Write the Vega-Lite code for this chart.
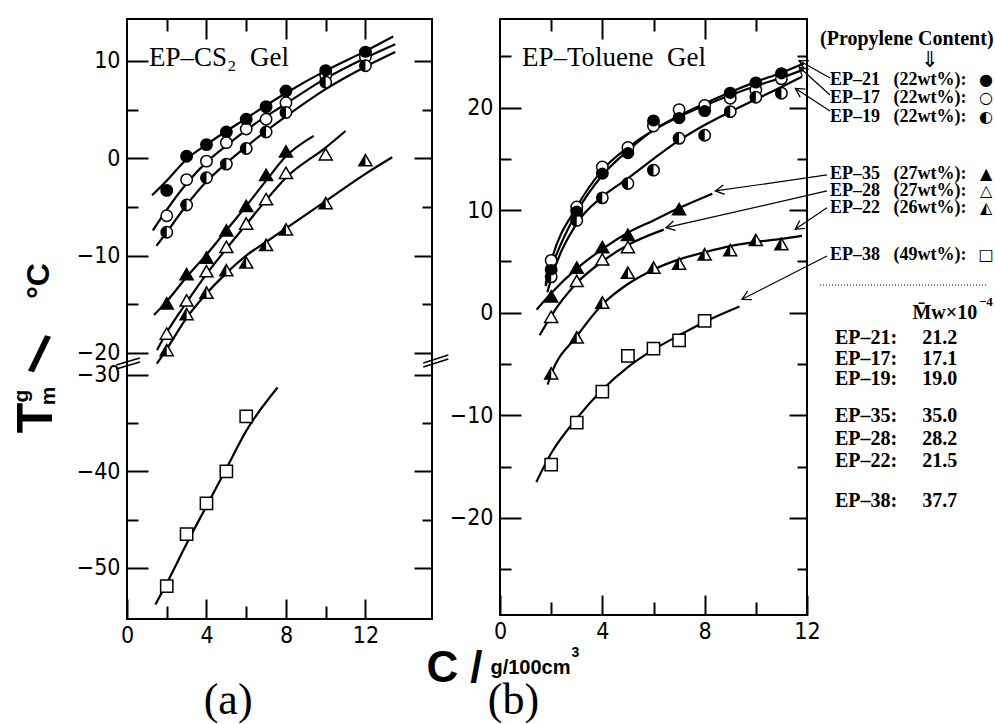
{
  "$schema": "https://vega.github.io/schema/vega-lite/v6.json",
  "padding": 0,
  "bounds": "flush",
  "spacing": 68,
  "config": {
    "view": {"stroke": "black", "strokeWidth": 2},
    "axis": {"domain": false, "grid": false, "tickColor": "black", "tickWidth": 2, "labelColor": "black", "labelFont": "Liberation Sans Narrow, DejaVu Sans Condensed, sans-serif", "labelFontSize": 23, "labelFlush": false, "labelOverlap": false, "title": null}
  },
  "datasets": {
    "pa": [
      {"s": "EP-21", "C": 2, "T": -3.3}, {"s": "EP-21", "C": 3, "T": 0.2}, {"s": "EP-21", "C": 4, "T": 1.4}, {"s": "EP-21", "C": 5, "T": 2.7}, {"s": "EP-21", "C": 6, "T": 4.0}, {"s": "EP-21", "C": 7, "T": 5.3}, {"s": "EP-21", "C": 8, "T": 6.9}, {"s": "EP-21", "C": 10, "T": 9.0}, {"s": "EP-21", "C": 12, "T": 10.9},
      {"s": "EP-17", "C": 2, "T": -5.9}, {"s": "EP-17", "C": 3, "T": -2.2}, {"s": "EP-17", "C": 4, "T": -0.3}, {"s": "EP-17", "C": 5, "T": 1.6}, {"s": "EP-17", "C": 6, "T": 3.0}, {"s": "EP-17", "C": 7, "T": 4.0}, {"s": "EP-17", "C": 8, "T": 5.7}, {"s": "EP-17", "C": 10, "T": 8.5}, {"s": "EP-17", "C": 12, "T": 10.4},
      {"s": "EP-19", "C": 2, "T": -7.6}, {"s": "EP-19", "C": 3, "T": -4.8}, {"s": "EP-19", "C": 4, "T": -2.0}, {"s": "EP-19", "C": 5, "T": -0.6}, {"s": "EP-19", "C": 6, "T": 1.0}, {"s": "EP-19", "C": 7, "T": 2.7}, {"s": "EP-19", "C": 8, "T": 4.7}, {"s": "EP-19", "C": 10, "T": 7.8}, {"s": "EP-19", "C": 12, "T": 9.5},
      {"s": "EP-35", "C": 2, "T": -14.9}, {"s": "EP-35", "C": 3, "T": -11.9}, {"s": "EP-35", "C": 4, "T": -10.2}, {"s": "EP-35", "C": 5, "T": -7.4}, {"s": "EP-35", "C": 6, "T": -4.9}, {"s": "EP-35", "C": 7, "T": -1.7}, {"s": "EP-35", "C": 8, "T": 0.7},
      {"s": "EP-28", "C": 2, "T": -18.0}, {"s": "EP-28", "C": 3, "T": -14.6}, {"s": "EP-28", "C": 4, "T": -11.6}, {"s": "EP-28", "C": 5, "T": -9.1}, {"s": "EP-28", "C": 6, "T": -6.7}, {"s": "EP-28", "C": 7, "T": -4.2}, {"s": "EP-28", "C": 8, "T": -1.5}, {"s": "EP-28", "C": 10, "T": 0.4},
      {"s": "EP-22", "C": 2, "T": -19.7}, {"s": "EP-22", "C": 3, "T": -16.0}, {"s": "EP-22", "C": 4, "T": -13.8}, {"s": "EP-22", "C": 5, "T": -11.5}, {"s": "EP-22", "C": 6, "T": -10.7}, {"s": "EP-22", "C": 7, "T": -8.9}, {"s": "EP-22", "C": 8, "T": -7.3}, {"s": "EP-22", "C": 10, "T": -4.6}, {"s": "EP-22", "C": 12, "T": -0.2},
      {"s": "EP-38", "C": 2, "T": -51.9}, {"s": "EP-38", "C": 3, "T": -46.5}, {"s": "EP-38", "C": 4, "T": -43.3}, {"s": "EP-38", "C": 5, "T": -40.0}, {"s": "EP-38", "C": 6, "T": -34.3}
    ],
    "pb": [
      {"s": "EP-21", "C": 2, "T": 4.2}, {"s": "EP-21", "C": 3, "T": 9.9}, {"s": "EP-21", "C": 4, "T": 13.6}, {"s": "EP-21", "C": 5, "T": 15.6}, {"s": "EP-21", "C": 6, "T": 18.7}, {"s": "EP-21", "C": 7, "T": 19.0}, {"s": "EP-21", "C": 8, "T": 19.7}, {"s": "EP-21", "C": 9, "T": 21.4}, {"s": "EP-21", "C": 10, "T": 22.4}, {"s": "EP-21", "C": 11, "T": 23.3},
      {"s": "EP-17", "C": 2, "T": 5.1}, {"s": "EP-17", "C": 3, "T": 10.3}, {"s": "EP-17", "C": 4, "T": 14.2}, {"s": "EP-17", "C": 5, "T": 16.1}, {"s": "EP-17", "C": 6, "T": 18.2}, {"s": "EP-17", "C": 7, "T": 19.8}, {"s": "EP-17", "C": 8, "T": 20.2}, {"s": "EP-17", "C": 9, "T": 20.9}, {"s": "EP-17", "C": 10, "T": 21.7}, {"s": "EP-17", "C": 11, "T": 22.8},
      {"s": "EP-19", "C": 2, "T": 3.5}, {"s": "EP-19", "C": 3, "T": 9.0}, {"s": "EP-19", "C": 4, "T": 11.2}, {"s": "EP-19", "C": 5, "T": 12.6}, {"s": "EP-19", "C": 6, "T": 13.9}, {"s": "EP-19", "C": 7, "T": 17.0}, {"s": "EP-19", "C": 8, "T": 17.3}, {"s": "EP-19", "C": 9, "T": 19.6}, {"s": "EP-19", "C": 10, "T": 21.0}, {"s": "EP-19", "C": 11, "T": 21.4},
      {"s": "EP-35", "C": 2, "T": 1.6}, {"s": "EP-35", "C": 3, "T": 4.4}, {"s": "EP-35", "C": 4, "T": 6.4}, {"s": "EP-35", "C": 5, "T": 7.6}, {"s": "EP-35", "C": 7, "T": 10.1},
      {"s": "EP-28", "C": 2, "T": -0.4}, {"s": "EP-28", "C": 3, "T": 3.1}, {"s": "EP-28", "C": 4, "T": 5.2}, {"s": "EP-28", "C": 5, "T": 6.4},
      {"s": "EP-22", "C": 2, "T": -5.9}, {"s": "EP-22", "C": 3, "T": -2.4}, {"s": "EP-22", "C": 4, "T": 1.0}, {"s": "EP-22", "C": 5, "T": 3.9}, {"s": "EP-22", "C": 6, "T": 4.4}, {"s": "EP-22", "C": 7, "T": 4.8}, {"s": "EP-22", "C": 8, "T": 5.7}, {"s": "EP-22", "C": 9, "T": 6.1}, {"s": "EP-22", "C": 10, "T": 7.1}, {"s": "EP-22", "C": 11, "T": 6.7},
      {"s": "EP-38", "C": 2, "T": -14.8}, {"s": "EP-38", "C": 3, "T": -10.7}, {"s": "EP-38", "C": 4, "T": -7.7}, {"s": "EP-38", "C": 5, "T": -4.2}, {"s": "EP-38", "C": 6, "T": -3.5}, {"s": "EP-38", "C": 7, "T": -2.7}, {"s": "EP-38", "C": 8, "T": -0.8}
    ],
    "ca": [
      {"s": "EP-21", "C": 1.26, "T": -3.8}, {"s": "EP-21", "C": 2, "T": -2.3}, {"s": "EP-21", "C": 3, "T": -0.1}, {"s": "EP-21", "C": 4, "T": 1.4}, {"s": "EP-21", "C": 6, "T": 4.1}, {"s": "EP-21", "C": 8, "T": 6.7}, {"s": "EP-21", "C": 10, "T": 9.0}, {"s": "EP-21", "C": 12, "T": 11.0}, {"s": "EP-21", "C": 13.4, "T": 12.5},
      {"s": "EP-17", "C": 1.3, "T": -7.4}, {"s": "EP-17", "C": 2, "T": -5.3}, {"s": "EP-17", "C": 3, "T": -2.6}, {"s": "EP-17", "C": 4, "T": -0.4}, {"s": "EP-17", "C": 5, "T": 1.3}, {"s": "EP-17", "C": 6, "T": 2.9}, {"s": "EP-17", "C": 8, "T": 5.6}, {"s": "EP-17", "C": 10, "T": 8.2}, {"s": "EP-17", "C": 12, "T": 10.3}, {"s": "EP-17", "C": 13.5, "T": 11.7},
      {"s": "EP-19", "C": 1.48, "T": -9.0}, {"s": "EP-19", "C": 2, "T": -7.6}, {"s": "EP-19", "C": 3, "T": -4.8}, {"s": "EP-19", "C": 4, "T": -2.4}, {"s": "EP-19", "C": 5, "T": -0.5}, {"s": "EP-19", "C": 6, "T": 1.2}, {"s": "EP-19", "C": 8, "T": 4.3}, {"s": "EP-19", "C": 10, "T": 7.1}, {"s": "EP-19", "C": 12, "T": 9.4}, {"s": "EP-19", "C": 13.5, "T": 10.9},
      {"s": "EP-35", "C": 1.36, "T": -16.1}, {"s": "EP-35", "C": 2, "T": -14.7}, {"s": "EP-35", "C": 3, "T": -12.2}, {"s": "EP-35", "C": 4, "T": -9.9}, {"s": "EP-35", "C": 5, "T": -7.4}, {"s": "EP-35", "C": 6, "T": -4.9}, {"s": "EP-35", "C": 7, "T": -2.3}, {"s": "EP-35", "C": 8, "T": 0.2}, {"s": "EP-35", "C": 9.4, "T": 2.3},
      {"s": "EP-28", "C": 1.51, "T": -19.7}, {"s": "EP-28", "C": 2, "T": -17.9}, {"s": "EP-28", "C": 3, "T": -14.8}, {"s": "EP-28", "C": 4, "T": -11.9}, {"s": "EP-28", "C": 5, "T": -9.3}, {"s": "EP-28", "C": 6, "T": -6.8}, {"s": "EP-28", "C": 7, "T": -4.3}, {"s": "EP-28", "C": 8, "T": -2.0}, {"s": "EP-28", "C": 10, "T": 1.1}, {"s": "EP-28", "C": 11, "T": 2.8},
      {"s": "EP-22", "C": 1.5, "T": -21.1}, {"s": "EP-22", "C": 2, "T": -19.6}, {"s": "EP-22", "C": 3, "T": -16.4}, {"s": "EP-22", "C": 4, "T": -13.9}, {"s": "EP-22", "C": 5, "T": -11.8}, {"s": "EP-22", "C": 6, "T": -10.0}, {"s": "EP-22", "C": 7, "T": -8.6}, {"s": "EP-22", "C": 8, "T": -7.2}, {"s": "EP-22", "C": 10, "T": -4.4}, {"s": "EP-22", "C": 12, "T": -1.6}, {"s": "EP-22", "C": 13.35, "T": 0.1},
      {"s": "EP-38", "C": 1.43, "T": -53.8}, {"s": "EP-38", "C": 2, "T": -51.6}, {"s": "EP-38", "C": 3, "T": -47.5}, {"s": "EP-38", "C": 4, "T": -43.6}, {"s": "EP-38", "C": 5, "T": -39.7}, {"s": "EP-38", "C": 6, "T": -35.8}, {"s": "EP-38", "C": 7.58, "T": -31.3}
    ],
    "cb": [
      {"s": "EP-21", "C": 1.78, "T": 2.6}, {"s": "EP-21", "C": 2, "T": 4.3}, {"s": "EP-21", "C": 3, "T": 9.8}, {"s": "EP-21", "C": 4, "T": 13.4}, {"s": "EP-21", "C": 5, "T": 15.8}, {"s": "EP-21", "C": 6, "T": 17.8}, {"s": "EP-21", "C": 7, "T": 19.2}, {"s": "EP-21", "C": 8, "T": 20.4}, {"s": "EP-21", "C": 9, "T": 21.5}, {"s": "EP-21", "C": 10, "T": 22.5}, {"s": "EP-21", "C": 11, "T": 23.4}, {"s": "EP-21", "C": 11.87, "T": 24.3},
      {"s": "EP-17", "C": 1.78, "T": 2.8}, {"s": "EP-17", "C": 2, "T": 5.0}, {"s": "EP-17", "C": 3, "T": 10.3}, {"s": "EP-17", "C": 4, "T": 13.9}, {"s": "EP-17", "C": 5, "T": 16.1}, {"s": "EP-17", "C": 6, "T": 17.8}, {"s": "EP-17", "C": 7, "T": 19.1}, {"s": "EP-17", "C": 8, "T": 20.2}, {"s": "EP-17", "C": 9, "T": 21.2}, {"s": "EP-17", "C": 10, "T": 22.1}, {"s": "EP-17", "C": 11, "T": 22.9}, {"s": "EP-17", "C": 11.87, "T": 23.7},
      {"s": "EP-19", "C": 1.85, "T": 2.0}, {"s": "EP-19", "C": 2, "T": 3.3}, {"s": "EP-19", "C": 3, "T": 8.7}, {"s": "EP-19", "C": 4, "T": 11.3}, {"s": "EP-19", "C": 5, "T": 13.1}, {"s": "EP-19", "C": 6, "T": 15.0}, {"s": "EP-19", "C": 7, "T": 16.8}, {"s": "EP-19", "C": 8, "T": 18.3}, {"s": "EP-19", "C": 9, "T": 19.6}, {"s": "EP-19", "C": 10, "T": 20.8}, {"s": "EP-19", "C": 11, "T": 22.0}, {"s": "EP-19", "C": 11.8, "T": 23.0},
      {"s": "EP-35", "C": 1.43, "T": 0.3}, {"s": "EP-35", "C": 2, "T": 1.9}, {"s": "EP-35", "C": 3, "T": 4.3}, {"s": "EP-35", "C": 4, "T": 6.2}, {"s": "EP-35", "C": 5, "T": 7.8}, {"s": "EP-35", "C": 6, "T": 9.0}, {"s": "EP-35", "C": 7, "T": 10.2}, {"s": "EP-35", "C": 8.3, "T": 11.6},
      {"s": "EP-28", "C": 1.55, "T": -2.2}, {"s": "EP-28", "C": 2, "T": -0.3}, {"s": "EP-28", "C": 3, "T": 2.9}, {"s": "EP-28", "C": 4, "T": 5.0}, {"s": "EP-28", "C": 5, "T": 6.6}, {"s": "EP-28", "C": 6.4, "T": 8.1},
      {"s": "EP-22", "C": 1.86, "T": -7.0}, {"s": "EP-22", "C": 2, "T": -6.0}, {"s": "EP-22", "C": 3, "T": -2.3}, {"s": "EP-22", "C": 4, "T": 0.8}, {"s": "EP-22", "C": 5, "T": 2.8}, {"s": "EP-22", "C": 6, "T": 4.2}, {"s": "EP-22", "C": 7, "T": 5.2}, {"s": "EP-22", "C": 8, "T": 5.9}, {"s": "EP-22", "C": 9, "T": 6.5}, {"s": "EP-22", "C": 10, "T": 6.9}, {"s": "EP-22", "C": 11, "T": 7.2}, {"s": "EP-22", "C": 11.8, "T": 7.5},
      {"s": "EP-38", "C": 1.42, "T": -16.5}, {"s": "EP-38", "C": 2, "T": -13.7}, {"s": "EP-38", "C": 3, "T": -10.3}, {"s": "EP-38", "C": 4, "T": -7.5}, {"s": "EP-38", "C": 5, "T": -5.3}, {"s": "EP-38", "C": 6, "T": -3.6}, {"s": "EP-38", "C": 7, "T": -2.2}, {"s": "EP-38", "C": 8, "T": -0.9}, {"s": "EP-38", "C": 9.36, "T": 0.6}
    ],
    "brk": [
      {"C": -0.55, "T": -28.96, "C2": 0.65, "T2": -20.51},
      {"C": -0.55, "T": -29.38, "C2": 0.65, "T2": -20.92},
      {"C": 14.91, "T": -21.03, "C2": 16.17, "T2": -20.21},
      {"C": 14.91, "T": -29.17, "C2": 16.17, "T2": -20.62}
    ],
    "arr": [
      {"s": "EP-21", "C": 11.69, "T": 24.58, "C2": 12.9, "T2": 22.88, "ang": 209},
      {"s": "EP-17", "C": 11.69, "T": 23.95, "C2": 12.9, "T2": 21.22, "ang": 222},
      {"s": "EP-19", "C": 11.55, "T": 21.86, "C2": 12.9, "T2": 19.66, "ang": 213},
      {"s": "EP-35", "C": 8.42, "T": 11.87, "C2": 12.78, "T2": 13.43, "ang": 172},
      {"s": "EP-28", "C": 6.49, "T": 8.29, "C2": 12.78, "T2": 11.87, "ang": 167},
      {"s": "EP-22", "C": 11.54, "T": 8.13, "C2": 12.78, "T2": 10.24, "ang": 146},
      {"s": "EP-38", "C": 9.46, "T": 1.31, "C2": 12.78, "T2": 5.53, "ang": 153}
    ],
    "ta": [
      {"role": "title", "C": 1.11, "T": 10.32, "txt": "EP–CS₂\u00a0\u00a0Gel"},
      {"role": "yT", "C": -4.53, "T": -34.46, "txt": "T"},
      {"role": "ysub", "C": -5.29, "T": -32.18, "txt": "g"},
      {"role": "ysub", "C": -3.93, "T": -32.18, "txt": "m"},
      {"role": "yslash", "C": -4.43, "T": -20.3, "txt": "/"},
      {"role": "yrest", "C": -4.43, "T": -12.61, "txt": "°C"},
      {"role": "xC", "C": 15.87, "T": -60.48, "txt": "C"},
      {"role": "xslash", "C": 17.58, "T": -60.48, "txt": "/"},
      {"role": "xunit", "C": 18.29, "T": -61.0, "txt": "g/100cm"},
      {"role": "x3", "C": 22.37, "T": -58.82, "txt": "3"},
      {"role": "ab", "C": 5.09, "T": -63.8, "txt": "(a)"},
      {"role": "ab", "C": 19.45, "T": -63.8, "txt": "(b)"}
    ],
    "tb": [
      {"role": "title", "C": 0.86, "T": 24.86, "txt": "EP–Toluene\u00a0\u00a0Gel"},
      {"role": "head", "C": 12.51, "T": 26.65, "txt": "(Propylene Content)"},
      {"role": "leg", "C": 12.9, "T": 22.68, "txt": "EP–21\u00a0\u00a0\u00a0(22wt%):"},
      {"role": "leg", "C": 12.9, "T": 20.93, "txt": "EP–17\u00a0\u00a0\u00a0(22wt%):"},
      {"role": "leg", "C": 12.9, "T": 19.08, "txt": "EP–19\u00a0\u00a0\u00a0(22wt%):"},
      {"role": "leg", "C": 12.9, "T": 13.52, "txt": "EP–35\u00a0\u00a0\u00a0(27wt%):"},
      {"role": "leg", "C": 12.9, "T": 11.87, "txt": "EP–28\u00a0\u00a0\u00a0(27wt%):"},
      {"role": "leg", "C": 12.9, "T": 10.21, "txt": "EP–22\u00a0\u00a0\u00a0(26wt%):"},
      {"role": "leg", "C": 12.9, "T": 5.63, "txt": "EP–38\u00a0\u00a0\u00a0(49wt%):"},
      {"role": "tab", "C": 13.09, "T": -2.46, "txt": "EP–21:"},
      {"role": "tab", "C": 13.09, "T": -4.51, "txt": "EP–17:"},
      {"role": "tab", "C": 13.09, "T": -6.46, "txt": "EP–19:"},
      {"role": "tab", "C": 13.09, "T": -10.06, "txt": "EP–35:"},
      {"role": "tab", "C": 13.09, "T": -12.31, "txt": "EP–28:"},
      {"role": "tab", "C": 13.09, "T": -14.45, "txt": "EP–22:"},
      {"role": "tab", "C": 13.09, "T": -18.35, "txt": "EP–38:"},
      {"role": "tab", "C": 16.5, "T": -2.46, "txt": "21.2"},
      {"role": "tab", "C": 16.5, "T": -4.51, "txt": "17.1"},
      {"role": "tab", "C": 16.5, "T": -6.46, "txt": "19.0"},
      {"role": "tab", "C": 16.5, "T": -10.06, "txt": "35.0"},
      {"role": "tab", "C": 16.5, "T": -12.31, "txt": "28.2"},
      {"role": "tab", "C": 16.5, "T": -14.45, "txt": "21.5"},
      {"role": "tab", "C": 16.5, "T": -18.35, "txt": "37.7"},
      {"role": "sym", "C": 19.0, "T": 22.68, "txt": "●"},
      {"role": "sym", "C": 19.0, "T": 20.93, "txt": "○"},
      {"role": "sym", "C": 19.0, "T": 19.08, "txt": "◐"},
      {"role": "sym", "C": 19.0, "T": 13.52, "txt": "▲"},
      {"role": "sym", "C": 19.0, "T": 11.87, "txt": "△"},
      {"role": "sym", "C": 19.0, "T": 10.21, "txt": "◭"},
      {"role": "sym", "C": 19.0, "T": 5.63, "txt": "□"},
      {"role": "down", "C": 16.81, "T": 24.63, "txt": "⇓"},
      {"role": "mw", "C": 18.65, "T": -0.03, "txt": "M̄w×10"},
      {"role": "sup", "C": 18.72, "T": 1.05, "txt": "−4"}
    ]
  },
  "hconcat": [
    {
      "width": 305,
      "height": 600,
      "encoding": {
        "x": {"field": "C", "type": "quantitative", "scale": {"domain": [0, 15.35], "nice": false, "zero": false}, "axis": null},
        "y": {"field": "T", "type": "quantitative", "scale": {"domain": [-55.3, -28.86, -21.13, 14.3], "range": [600, 345, 345, 0], "nice": false, "zero": false}, "axis": null}
      },
      "layer": [
        {"data": {"values": [{"C": -6.297, "T": 16.14, "C2": -6.297, "T2": 16.14}]}, "mark": {"type": "rule", "opacity": 0}, "encoding": {"x2": {"field": "C2"}, "y2": {"field": "T2"}}},
        {"data": {"name": "brk"}, "mark": {"type": "rule", "color": "black", "strokeWidth": 1.6}, "encoding": {"x2": {"field": "C2"}, "y2": {"field": "T2"}}},
        {"data": {"name": "ca"}, "mark": {"type": "line", "color": "black", "strokeWidth": 2.2, "interpolate": "monotone"}, "encoding": {"detail": {"field": "s"}, "order": {"field": "C", "type": "quantitative"}}},
        {
          "data": {"name": "pa"},
          "transform": [{"filter": {"field": "s", "oneOf": ["EP-21", "EP-17", "EP-19"]}}],
          "mark": {"type": "point", "shape": "circle", "size": 130, "filled": true, "fill": "white", "stroke": "black", "strokeWidth": 1.5, "opacity": 1},
          "encoding": {
            "x": {"field": "C", "type": "quantitative", "scale": {"domain": [0, 15.35], "nice": false, "zero": false},
              "axis": {"orient": "bottom", "values": [0, 2, 4, 6, 8, 10, 12], "labelExpr": "datum.value % 4 === 0 ? datum.label : ''", "tickSize": {"condition": {"test": "datum.value % 4 === 0", "value": -20}, "value": -13}, "labelPadding": 25, "title": null}},
            "y": {"field": "T", "type": "quantitative", "scale": {"domain": [-55.3, -28.86, -21.13, 14.3], "range": [600, 345, 345, 0], "nice": false, "zero": false},
              "axis": {"orient": "left", "values": [10, 5, 0, -5, -10, -15, -20, -30, -35, -40, -45, -50], "labelExpr": "datum.value % 10 === 0 ? datum.label : ''", "tickSize": {"condition": {"test": "datum.value % 10 === 0", "value": -21}, "value": -11}, "labelPadding": 28, "title": null}}
          }
        },
        {
          "data": {"name": "pa"},
          "transform": [{"filter": {"field": "s", "oneOf": ["EP-35", "EP-28", "EP-22"]}}],
          "mark": {"type": "point", "shape": "M 0 -0.866 L 1 0.866 L -1 0.866 Z", "size": 170, "filled": true, "fill": "white", "stroke": "black", "strokeWidth": 1.5, "opacity": 1},
          "encoding": {
            "x": {"field": "C", "type": "quantitative", "scale": {"domain": [0, 15.35], "nice": false, "zero": false},
              "axis": {"orient": "top", "values": [2, 4, 6, 8, 10, 12], "labels": false, "tickSize": {"condition": {"test": "datum.value % 4 === 0", "value": -20}, "value": -12}, "title": null}},
            "y": {"field": "T", "type": "quantitative", "scale": {"domain": [-55.3, -28.86, -21.13, 14.3], "range": [600, 345, 345, 0], "nice": false, "zero": false},
              "axis": {"orient": "right", "values": [10, 5, 0, -5, -10, -15, -20, -30, -35, -40, -45, -50], "labels": false, "tickSize": {"condition": {"test": "datum.value % 10 === 0", "value": -18}, "value": -10}, "title": null}}
          }
        },
        {"data": {"name": "pa"}, "transform": [{"filter": "datum.s === 'EP-38'"}], "mark": {"type": "point", "shape": "square", "size": 150, "filled": true, "fill": "white", "stroke": "black", "strokeWidth": 1.5, "opacity": 1}},
        {"data": {"name": "pa"}, "transform": [{"filter": "datum.s === 'EP-21'"}], "mark": {"type": "point", "shape": "circle", "size": 130, "filled": true, "fill": "black", "strokeWidth": 0, "opacity": 1}},
        {"data": {"name": "pa"}, "transform": [{"filter": "datum.s === 'EP-19'"}], "mark": {"type": "point", "shape": "M 0 -1 A 1 1 0 0 0 0 1 Z", "size": 130, "filled": true, "fill": "black", "strokeWidth": 0, "opacity": 1}},
        {"data": {"name": "pa"}, "transform": [{"filter": "datum.s === 'EP-35'"}], "mark": {"type": "point", "shape": "M 0 -0.866 L 1 0.866 L -1 0.866 Z", "size": 170, "filled": true, "fill": "black", "strokeWidth": 0, "opacity": 1}},
        {"data": {"name": "pa"}, "transform": [{"filter": "datum.s === 'EP-22'"}], "mark": {"type": "point", "shape": "M 0 -0.866 L 0 0.866 L -1 0.866 Z", "size": 170, "filled": true, "fill": "black", "strokeWidth": 0, "opacity": 1}},
        {"data": {"name": "ta"}, "transform": [{"filter": "datum.role === 'title'"}], "mark": {"type": "text", "font": "Liberation Serif", "fontSize": 27, "align": "left", "baseline": "middle", "color": "black"}, "encoding": {"text": {"field": "txt"}}},
        {"data": {"name": "ta"}, "transform": [{"filter": "datum.role === 'yT'"}], "mark": {"type": "text", "font": "Liberation Sans", "fontWeight": "bold", "fontSize": 50, "angle": 270, "align": "center", "baseline": "middle", "color": "black"}, "encoding": {"text": {"field": "txt"}}},
        {"data": {"name": "ta"}, "transform": [{"filter": "datum.role === 'ysub'"}], "mark": {"type": "text", "font": "Liberation Sans", "fontWeight": "bold", "fontSize": 21, "angle": 270, "align": "center", "baseline": "middle", "color": "black"}, "encoding": {"text": {"field": "txt"}}},
        {"data": {"name": "ta"}, "transform": [{"filter": "datum.role === 'yslash'"}], "mark": {"type": "text", "font": "Liberation Sans", "fontWeight": "bold", "fontSize": 52, "angle": 15, "align": "center", "baseline": "middle", "color": "black"}, "encoding": {"text": {"field": "txt"}}},
        {"data": {"name": "ta"}, "transform": [{"filter": "datum.role === 'yrest'"}], "mark": {"type": "text", "font": "Liberation Sans", "fontWeight": "bold", "fontSize": 32, "angle": 270, "align": "center", "baseline": "middle", "color": "black"}, "encoding": {"text": {"field": "txt"}}},
        {"data": {"name": "ta"}, "transform": [{"filter": "datum.role === 'xC'"}], "mark": {"type": "text", "font": "Liberation Sans", "fontWeight": "bold", "fontSize": 44, "align": "center", "baseline": "middle", "color": "black"}, "encoding": {"text": {"field": "txt"}}},
        {"data": {"name": "ta"}, "transform": [{"filter": "datum.role === 'xslash'"}], "mark": {"type": "text", "font": "Liberation Sans", "fontWeight": "bold", "fontSize": 44, "align": "center", "baseline": "middle", "color": "black"}, "encoding": {"text": {"field": "txt"}}},
        {"data": {"name": "ta"}, "transform": [{"filter": "datum.role === 'xunit'"}], "mark": {"type": "text", "font": "Liberation Sans", "fontWeight": "bold", "fontSize": 20, "align": "left", "baseline": "alphabetic", "color": "black"}, "encoding": {"text": {"field": "txt"}}},
        {"data": {"name": "ta"}, "transform": [{"filter": "datum.role === 'x3'"}], "mark": {"type": "text", "font": "Liberation Sans", "fontWeight": "bold", "fontSize": 14, "align": "left", "baseline": "middle", "color": "black"}, "encoding": {"text": {"field": "txt"}}},
        {"data": {"name": "ta"}, "transform": [{"filter": "datum.role === 'ab'"}], "mark": {"type": "text", "font": "Liberation Serif", "fontSize": 44, "align": "center", "baseline": "middle", "color": "black"}, "encoding": {"text": {"field": "txt"}}}
      ],
      "resolve": {"axis": {"x": "independent", "y": "independent"}}
    },
    {
      "width": 307,
      "height": 596,
      "encoding": {
        "x": {"field": "C", "type": "quantitative", "scale": {"domain": [0, 12], "nice": false, "zero": false}, "axis": null},
        "y": {"field": "T", "type": "quantitative", "scale": {"domain": [-29.46, 28.63], "nice": false, "zero": false}, "axis": null}
      },
      "layer": [
        {"data": {"values": [{"C": 19.427, "T": -40.18, "C2": 19.427, "T2": -40.18}]}, "mark": {"type": "rule", "opacity": 0}, "encoding": {"x2": {"field": "C2"}, "y2": {"field": "T2"}}},
        {"data": {"name": "cb"}, "mark": {"type": "line", "color": "black", "strokeWidth": 2.2, "interpolate": "monotone"}, "encoding": {"detail": {"field": "s"}, "order": {"field": "C", "type": "quantitative"}}},
        {"data": {"name": "arr"}, "mark": {"type": "rule", "color": "black", "strokeWidth": 1.2}, "encoding": {"x2": {"field": "C2"}, "y2": {"field": "T2"}}},
        {"data": {"name": "arr"}, "mark": {"type": "point", "shape": "M -1 -0.55 L 0 0 L -1 0.55", "size": 300, "filled": false, "stroke": "black", "strokeWidth": 1.3, "opacity": 1}, "encoding": {"angle": {"field": "ang", "type": "quantitative", "scale": null}}},
        {"data": {"values": [{"C": 12.51, "T": 2.70, "C2": 19.04, "T2": 2.70}]}, "mark": {"type": "rule", "color": "black", "strokeWidth": 1, "strokeDash": [1, 2]}, "encoding": {"x2": {"field": "C2"}, "y2": {"field": "T2"}}},
        {
          "data": {"name": "pb"},
          "transform": [{"filter": {"field": "s", "oneOf": ["EP-21", "EP-17", "EP-19"]}}],
          "mark": {"type": "point", "shape": "circle", "size": 130, "filled": true, "fill": "white", "stroke": "black", "strokeWidth": 1.5, "opacity": 1},
          "encoding": {
            "x": {"field": "C", "type": "quantitative", "scale": {"domain": [0, 12], "nice": false, "zero": false},
              "axis": {"orient": "bottom", "values": [0, 2, 4, 6, 8, 10, 12], "labelExpr": "datum.value % 4 === 0 ? datum.label : ''", "tickSize": {"condition": {"test": "datum.value % 4 === 0", "value": -20}, "value": -13}, "labelPadding": 25, "title": null}},
            "y": {"field": "T", "type": "quantitative", "scale": {"domain": [-29.46, 28.63], "nice": false, "zero": false},
              "axis": {"orient": "left", "values": [25, 20, 15, 10, 5, 0, -5, -10, -15, -20, -25], "labelExpr": "datum.value % 10 === 0 ? datum.label : ''", "tickSize": {"condition": {"test": "datum.value % 10 === 0", "value": -21}, "value": -11}, "labelPadding": 28, "title": null}}
          }
        },
        {
          "data": {"name": "pb"},
          "transform": [{"filter": {"field": "s", "oneOf": ["EP-35", "EP-28", "EP-22"]}}],
          "mark": {"type": "point", "shape": "M 0 -0.866 L 1 0.866 L -1 0.866 Z", "size": 170, "filled": true, "fill": "white", "stroke": "black", "strokeWidth": 1.5, "opacity": 1},
          "encoding": {
            "x": {"field": "C", "type": "quantitative", "scale": {"domain": [0, 12], "nice": false, "zero": false},
              "axis": {"orient": "top", "values": [2, 4, 6, 8, 10], "labels": false, "tickSize": {"condition": {"test": "datum.value % 4 === 0", "value": -20}, "value": -12}, "title": null}},
            "y": {"field": "T", "type": "quantitative", "scale": {"domain": [-29.46, 28.63], "nice": false, "zero": false},
              "axis": {"orient": "right", "values": [25, 20, 15, 10, 5, 0, -5, -10, -15, -20, -25], "labels": false, "tickSize": {"condition": {"test": "datum.value % 10 === 0", "value": -18}, "value": -10}, "title": null}}
          }
        },
        {"data": {"name": "pb"}, "transform": [{"filter": "datum.s === 'EP-38'"}], "mark": {"type": "point", "shape": "square", "size": 150, "filled": true, "fill": "white", "stroke": "black", "strokeWidth": 1.5, "opacity": 1}},
        {"data": {"name": "pb"}, "transform": [{"filter": "datum.s === 'EP-21'"}], "mark": {"type": "point", "shape": "circle", "size": 130, "filled": true, "fill": "black", "strokeWidth": 0, "opacity": 1}},
        {"data": {"name": "pb"}, "transform": [{"filter": "datum.s === 'EP-19'"}], "mark": {"type": "point", "shape": "M 0 -1 A 1 1 0 0 0 0 1 Z", "size": 130, "filled": true, "fill": "black", "strokeWidth": 0, "opacity": 1}},
        {"data": {"name": "pb"}, "transform": [{"filter": "datum.s === 'EP-35'"}], "mark": {"type": "point", "shape": "M 0 -0.866 L 1 0.866 L -1 0.866 Z", "size": 170, "filled": true, "fill": "black", "strokeWidth": 0, "opacity": 1}},
        {"data": {"name": "pb"}, "transform": [{"filter": "datum.s === 'EP-22'"}], "mark": {"type": "point", "shape": "M 0 -0.866 L 0 0.866 L -1 0.866 Z", "size": 170, "filled": true, "fill": "black", "strokeWidth": 0, "opacity": 1}},
        {"data": {"name": "tb"}, "transform": [{"filter": "datum.role === 'title'"}], "mark": {"type": "text", "font": "Liberation Serif", "fontSize": 27, "align": "left", "baseline": "middle", "color": "black"}, "encoding": {"text": {"field": "txt"}}},
        {"data": {"name": "tb"}, "transform": [{"filter": "datum.role === 'head'"}], "mark": {"type": "text", "font": "Liberation Serif", "fontWeight": "bold", "fontSize": 20, "align": "left", "baseline": "middle", "color": "black"}, "encoding": {"text": {"field": "txt"}}},
        {"data": {"name": "tb"}, "transform": [{"filter": "datum.role === 'leg'"}], "mark": {"type": "text", "font": "Liberation Serif", "fontWeight": "bold", "fontSize": 18, "align": "left", "baseline": "middle", "color": "black"}, "encoding": {"text": {"field": "txt"}}},
        {"data": {"name": "tb"}, "transform": [{"filter": "datum.role === 'tab'"}], "mark": {"type": "text", "font": "Liberation Serif", "fontWeight": "bold", "fontSize": 20, "align": "left", "baseline": "middle", "color": "black"}, "encoding": {"text": {"field": "txt"}}},
        {"data": {"name": "tb"}, "transform": [{"filter": "datum.role === 'sym'"}], "mark": {"type": "text", "font": "DejaVu Sans", "fontSize": 16, "align": "center", "baseline": "middle", "color": "black"}, "encoding": {"text": {"field": "txt"}}},
        {"data": {"name": "tb"}, "transform": [{"filter": "datum.role === 'down'"}], "mark": {"type": "text", "font": "DejaVu Sans", "fontSize": 22, "align": "center", "baseline": "middle", "color": "black"}, "encoding": {"text": {"field": "txt"}}},
        {"data": {"name": "tb"}, "transform": [{"filter": "datum.role === 'mw'"}], "mark": {"type": "text", "font": "Liberation Serif", "fontWeight": "bold", "fontSize": 20, "align": "right", "baseline": "middle", "color": "black"}, "encoding": {"text": {"field": "txt"}}},
        {"data": {"name": "tb"}, "transform": [{"filter": "datum.role === 'sup'"}], "mark": {"type": "text", "font": "Liberation Serif", "fontWeight": "bold", "fontSize": 13, "align": "left", "baseline": "middle", "color": "black"}, "encoding": {"text": {"field": "txt"}}}
      ],
      "resolve": {"axis": {"x": "independent", "y": "independent"}}
    }
  ]
}
